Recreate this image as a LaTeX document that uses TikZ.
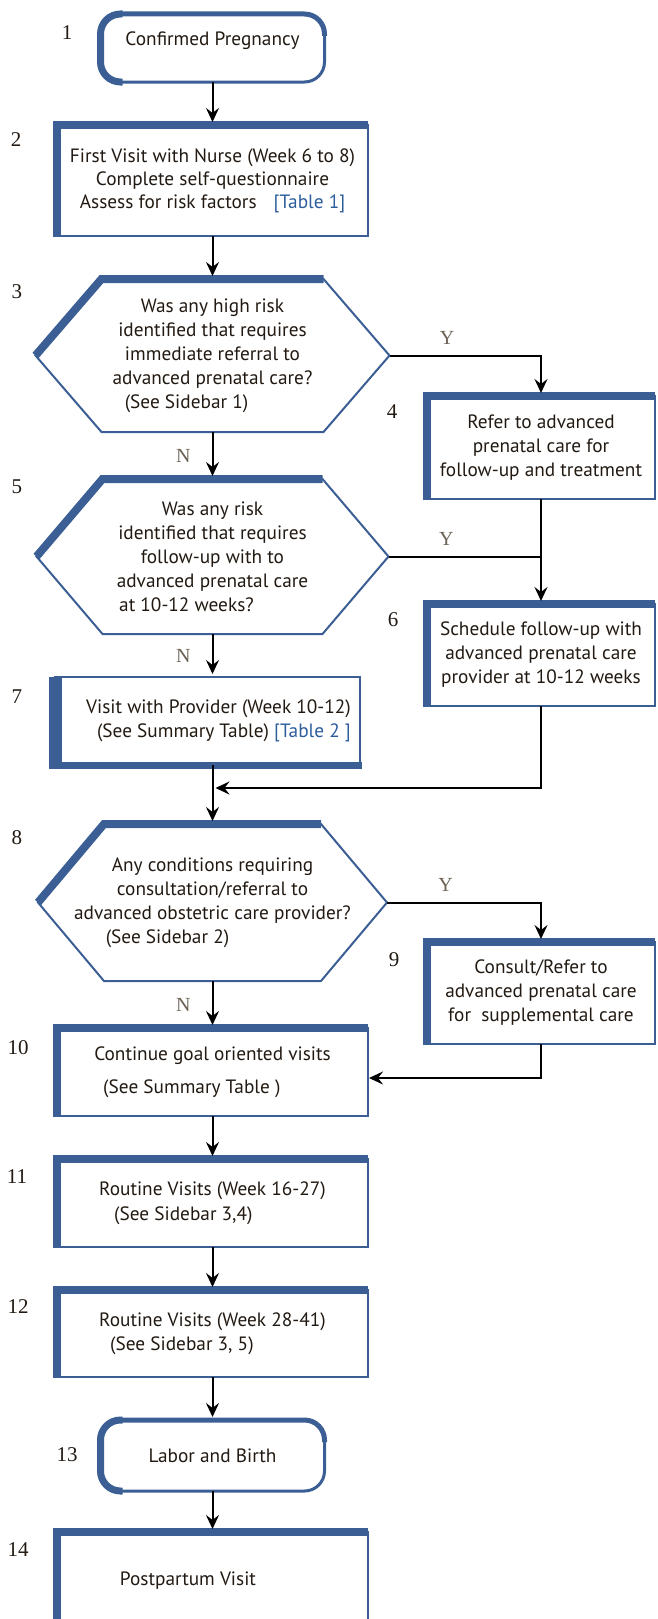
\documentclass[tikz,border=0pt]{standalone}
\usepackage{fontspec}
\setmainfont{PT Sans}
\newfontfamily\numfont{Liberation Serif}
\usetikzlibrary{arrows.meta}
\definecolor{boxblue}{HTML}{3B5E95}
\definecolor{tableblue}{HTML}{2B5D9B}
\definecolor{txt}{HTML}{221A12}
\definecolor{ynbrown}{HTML}{6B6254}

\begin{document}
\begin{tikzpicture}[x=1pt,y=-1pt,>={Stealth[length=14pt,width=13pt,inset=5pt]},
        box/.style={rectangle,draw=boxblue,line width=2pt,outer sep=0pt,align=center,
            text=txt,font=\fontsize{19.3}{24}\selectfont},
        term/.style={box,rounded corners=20pt,line width=3pt},
        hexa/.style={rectangle,outer sep=0pt,align=center,text=txt,
            font=\fontsize{19.3}{24}\selectfont},
        heavy/.style={draw=boxblue,line width=8pt},
        flow/.style={->,line width=2pt,shorten >=3pt},
        num/.style={font=\numfont\fontsize{21}{21}\selectfont,text=txt},
        yn/.style={font=\numfont\fontsize{20}{20}\selectfont,text=ynbrown,inner sep=0pt}]

    \useasboundingbox (0,0) rectangle (658,1619);
    \clip (0,0) rectangle (658,1619);

    \node[term,minimum width=224pt,minimum height=68pt,text depth=19pt] (t1) at (212.5,48) {Confirmed Pregnancy};
    \node[box,minimum width=311pt,minimum height=111pt,font=\fontsize{19.3}{23}\selectfont] (b2) at (212.5,180.5)
        {First Visit with Nurse (Week 6 to 8)\\Complete self-questionnaire\\Assess for risk factors\hspace{17pt}{\color{tableblue}[Table 1]}};
    \node[hexa,minimum width=354pt,minimum height=153pt] (h3) at (212.5,355.5)
        {Was any high risk\\identified that requires\\immediate referral to\\advanced prenatal care?\\(See Sidebar 1)\hspace*{52pt}};
    \node[box,minimum width=228pt,minimum height=103pt] (b4) at (541,447.5)
        {Refer to advanced\\prenatal care for\\follow-up and treatment};
    \node[hexa,minimum width=352pt,minimum height=155pt] (h5) at (212.5,556.5)
        {Was any risk\\identified that requires\\follow-up with to\\advanced prenatal care\\at 10-12 weeks?\hspace*{52pt}};
    \node[box,minimum width=228pt,minimum height=102pt] (b6) at (541,655)
        {Schedule follow-up with\\advanced prenatal care\\provider at 10-12 weeks};
    \node[box,minimum width=305pt,minimum height=88pt,line width=1.5pt,align=right] (b7) at (207.5,721)
        {\hspace*{22pt}Visit with Provider (Week 10-12)\\(See Summary Table) {\color{tableblue}[Table 2 ]}};
    \node[hexa,minimum width=349pt,minimum height=157pt] (h8) at (212.5,902.5)
        {Any conditions requiring\\consultation/referral to\\advanced obstetric care provider?\\(See Sidebar 2)\hspace*{90pt}};
    \node[box,minimum width=228pt,minimum height=102pt] (b9) at (541,993)
        {Consult/Refer to\\advanced prenatal care\\for\ \ supplemental care};
    \node[box,minimum width=311pt,minimum height=88pt,align=left] (b10) at (212.5,1072)
        {Continue goal oriented visits\\[9pt]\hspace*{9pt}(See Summary Table )};
    \node[box,minimum width=311pt,minimum height=88pt,align=left] (b11) at (212.5,1203)
        {Routine Visits (Week 16-27)\\[1pt]\hspace*{15pt}(See Sidebar 3,4)};
    \node[box,minimum width=311pt,minimum height=87pt,align=left] (b12) at (212.5,1333.5)
        {Routine Visits (Week 28-41)\\\hspace*{11pt}(See Sidebar 3, 5)};
    \node[term,minimum width=224pt,minimum height=71pt] (t13) at (212.5,1455.5) {Labor and Birth};
    \node[box,minimum width=311pt,minimum height=98pt] (b14) at (212.5,1581) {Postpartum Visit\hspace*{49pt}};

    \foreach \n in {b2,b4,b6,b9,b10,b11,b12,b14}
        \draw[heavy] ([yshift=-1pt]\n.south west) -- (\n.north west) -- (\n.north east);
    \draw[heavy,line width=13pt] (b7.north west) -- (b7.south west);
    \draw[heavy,line width=7pt] ([xshift=-6.5pt]b7.south west) -- ([xshift=2pt]b7.south east);
    \foreach \n in {t1,t13} {
        \draw[boxblue,line width=5pt,rounded corners=20pt] ([yshift=-22pt]\n.north west) -- (\n.north west) -- (\n.north east) -- ([yshift=-22pt]\n.north east);
        \draw[boxblue,line width=7pt,rounded corners=20pt] ([xshift=22pt]\n.south west) -- (\n.south west) -- (\n.north west) -- ([xshift=22pt]\n.north west);
    }
    \foreach \n in {h3,h5,h8} {
        \draw[boxblue,line width=2pt] ([xshift=66pt]\n.north west) -- ([xshift=-66pt]\n.north east) -- (\n.east)
            -- ([xshift=-66pt]\n.south east) -- ([xshift=66pt]\n.south west) -- (\n.west) -- cycle;
        \draw[heavy] (\n.west) -- ([xshift=66pt]\n.north west) -- ([xshift=-66pt]\n.north east);
    }

    \node[num] (n1) at (67,33) {1};
    \node[num] (n2) at (16,140) {2};
    \node[num] (n3) at (17,292) {3};
    \node[num] (n4) at (392,412) {4};
    \node[num] (n5) at (17,487) {5};
    \node[num] (n6) at (393,620) {6};
    \node[num] (n7) at (17,697) {7};
    \node[num] (n8) at (17,838) {8};
    \node[num] (n9) at (394,960) {9};
    \node[num] (n10) at (18,1048) {10};
    \node[num] (n11) at (17,1177) {11};
    \node[num] (n12) at (18,1307) {12};
    \node[num] (n13) at (67,1455) {13};
    \node[num] (n14) at (18,1550) {14};

    \coordinate (m1) at (212.5,788);

    \draw[flow] (t1.south) -- (b2.north);
    \draw[flow] (b2.south) -- (h3.north);
    \draw[flow] (h3.east) -| node[yn,pos=0.19,above=10pt] {Y} (b4.north);
    \draw[flow] (h3.south) -- node[yn,left=21pt] {N} (h5.north);
    \draw[flow] (b4.south) -- (b6.north);
    \draw[line width=2pt] (h5.east) -- node[yn,pos=0.38,above=10pt] {Y} (h5.east -| b6.north);
    \draw[flow] (h5.south) -- node[yn,left=21pt] {N} (h5.south |- b7.north);
    \draw[flow] (b7.south -| h8.north) -- (h8.north);
    \draw[flow] (b6.south) |- (m1);
    \draw[flow] (h8.east) -| node[yn,pos=0.19,above=10pt] {Y} (b9.north);
    \draw[flow] (h8.south) -- node[yn,left=21pt] {N} (b10.north);
    \draw[flow,shorten >=1pt] (b9.south) |- ([yshift=-6pt]b10.east);
    \draw[flow] (b10.south) -- (b11.north);
    \draw[flow] (b11.south) -- (b12.north);
    \draw[flow] (b12.south) -- (t13.north);
    \draw[flow] (t13.south) -- (b14.north);

    \end{tikzpicture}
\end{document}
